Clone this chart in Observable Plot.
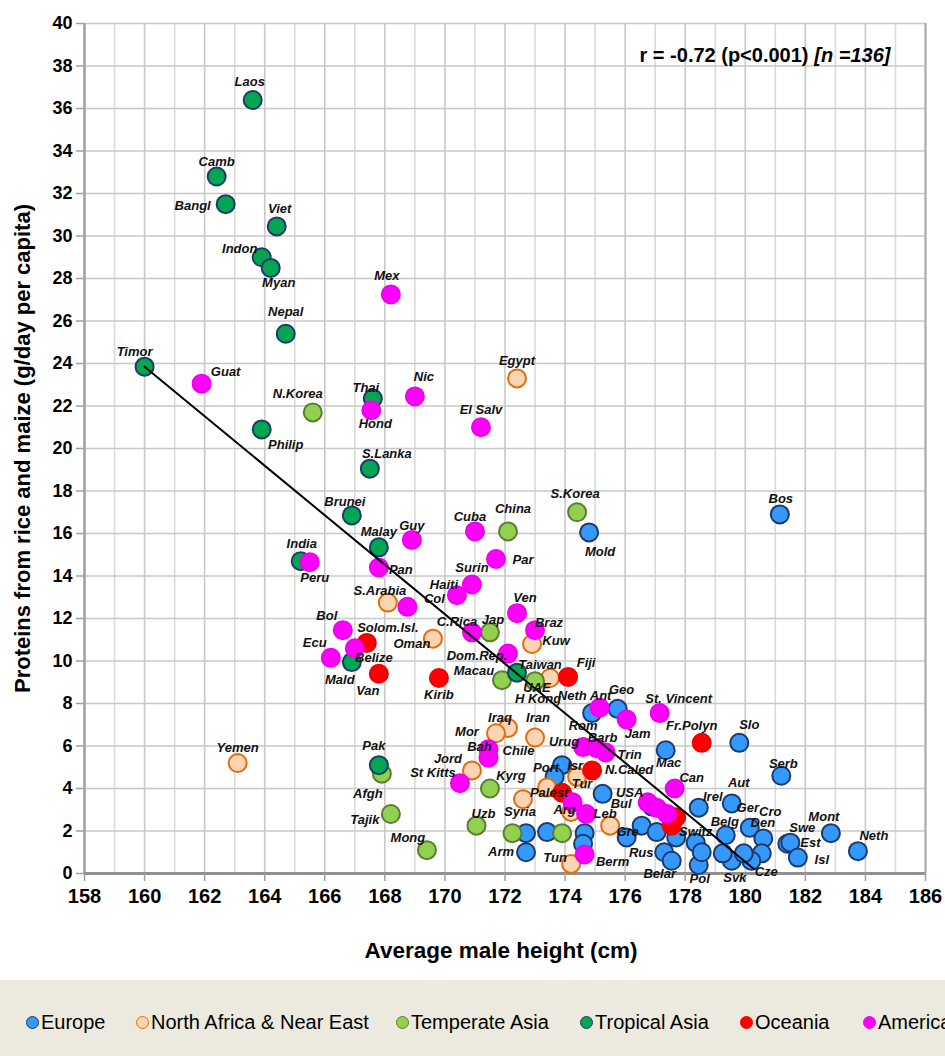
<!DOCTYPE html>
<html>
<head>
<meta charset="utf-8">
<script src="https://cdn.jsdelivr.net/npm/d3@7"></script>
<script src="https://cdn.jsdelivr.net/npm/@observablehq/plot@0.6"></script>
<style>
  html, body { margin: 0; padding: 0; background: #fff; overflow: hidden; }
  #chart { width: 945px; height: 1056px; position: relative; overflow: hidden; }
  #chart svg { display: block; }
  #legend { position: absolute; left: 0; top: 980px; width: 945px; height: 76px; background: #ECEADF;
            white-space: nowrap; font-family: "Liberation Sans", Arial, sans-serif; font-size: 20px; color: #000; overflow: hidden; }
  .item { position: absolute; top: 30px; height: 24px; display: flex; align-items: center; }
  .sw { display: inline-block; width: 11px; height: 11px; border-radius: 50%; border: 1.6px solid; margin-right: 2px; }
</style>
</head>
<body>
<div id="chart"></div>
<script>
// ---------- series definitions ----------
const series = ["Europe", "North Africa & Near East", "Temperate Asia", "Tropical Asia", "Oceania", "America"];
const seriesFill = ["#3399FF", "#FBD4B4", "#92D050", "#00A651", "#FF0000", "#FF00FF"];
const seriesStroke = ["#1F3A68", "#E46C0A", "#5A7D33", "#1F3A68", "#F00000", "#EE00EE"];
// legend item left edges (layout only)
const legendLeft = [26, 136, 396, 580, 740, 863];

// ---------- data (average male height cm, proteins from rice and maize g/day) ----------
const europeNames = ["Bos","Mold","Rom","Geo","Mac","Slo","Serb","Port","Aut","Irel","Ger","Belg","Cro","Den","Cze","Svk","Switz","Pol","Gre","Rus","Belar","Swe","Est","Isl","Mont","Neth","Bul","Arm","","","","","","","","","","","",""];
const europeHeight = [181.15,174.8,174.9,175.75,177.35,179.8,181.2,173.9,179.55,178.45,180.15,179.35,180.6,180.55,180.2,179.55,178.35,178.45,176.05,177.3,177.55,181.4,181.5,181.75,182.85,183.75,176.9,172.7,173.65,175.25,179.25,178.55,176.55,177.05,177.7,174.65,174.6,172.7,173.4,179.95];
const europeProtein = [16.9,16.05,7.55,7.75,5.8,6.15,4.6,5.1,3.3,3.1,2.15,1.8,1.65,0.95,0.6,0.6,1.45,0.4,1.7,1.0,0.6,1.4,1.45,0.75,1.9,1.05,3.15,1.0,4.55,3.75,0.95,1.0,2.25,1.95,1.7,1.9,1.4,1.9,1.95,0.95];

const nafricaNames = ["Egypt","S.Arabia","Oman","Kuw","UAE","Iraq","Mor","Iran","Jord","Syria","Tun","Palest","Isr","Tur","Leb","Yemen"];
const nafricaHeight = [172.4,168.1,169.6,172.9,173.5,172.1,171.7,173.0,170.9,172.6,174.2,173.4,174.4,174.2,175.5,163.1];
const nafricaProtein = [23.3,12.75,11.05,10.8,9.2,6.85,6.6,6.4,4.85,3.5,0.45,4.05,4.55,2.9,2.25,5.2];

const tempAsiaNames = ["N.Korea","China","S.Korea","Jap","Macau","H Kong","Afgh","Tajik","Mong","Uzb","Kyrg","",""];
const tempAsiaHeight = [165.6,172.1,174.4,171.5,171.9,173.0,167.9,168.2,169.4,171.05,171.5,172.25,173.9];
const tempAsiaProtein = [21.7,16.1,17.0,11.35,9.1,9.05,4.7,2.8,1.1,2.25,4.0,1.9,1.9];

const tropAsiaNames = ["Laos","Camb","Bangl","Viet","Indon","Myan","Nepal","Timor","Philip","Thai","S.Lanka","Brunei","Malay","India","Mald","Pak","Taiwan"];
const tropAsiaHeight = [163.6,162.4,162.7,164.4,163.9,164.2,164.7,160.0,163.9,167.6,167.5,166.9,167.8,165.2,166.9,167.8,172.4];
const tropAsiaProtein = [36.4,32.8,31.5,30.45,29.0,28.5,25.4,23.85,20.9,22.35,19.05,16.85,15.35,14.7,9.95,5.1,9.45];

const oceaniaNames = ["Solom.Isl.","Van","Kirib","Fiji","Fr.Polyn","N.Caled","","",""];
const oceaniaHeight = [167.4,167.8,169.8,174.1,178.55,174.9,173.9,177.7,177.55];
const oceaniaProtein = [10.85,9.4,9.2,9.25,6.15,4.85,3.8,2.65,2.25];

const americaNames = ["Mex","Guat","Nic","Hond","El Salv","Cuba","Guy","Par","Peru","Pan","Surin","Haiti","Col","Ven","Braz","C.Rica","Bol","Ecu","Belize","Dom.Rep.","St Kitts","Bah","Chile","Neth Ant","Jam","St. Vincent","Urug","Barb","Trin","Can","USA","Berm","Arg","","",""];
const americaHeight = [168.2,161.9,169.0,167.55,171.2,171.0,168.9,171.7,165.5,167.8,170.9,170.4,168.75,172.4,173.0,170.9,166.6,166.2,167.0,172.1,170.5,171.45,171.45,175.15,176.05,177.15,174.6,175.05,175.35,177.65,176.75,174.65,174.25,174.7,177.05,177.4];
const americaProtein = [27.25,23.05,22.45,21.8,21.0,16.1,15.7,14.8,14.65,14.4,13.6,13.1,12.55,12.25,11.45,11.35,11.45,10.15,10.6,10.35,4.25,5.85,5.45,7.8,7.25,7.55,5.95,5.9,5.7,4.0,3.35,0.9,3.35,2.8,3.1,2.8];

// regression line end points
const trendHeight = [160.0, 180.3];
const trendProtein = [23.85, 0.2];

// axis ticks
const xTickValues = [158,160,162,164,166,168,170,172,174,176,178,180,182,184,186];
const xMinorTicks = [159,161,163,165,167,169,171,173,175,177,179,181,183,185];
const yTickValues = [0,2,4,6,8,10,12,14,16,18,20,22,24,26,28,30,32,34,36,38,40];

const statText = "r = -0.72 (p<0.001)";
const nText = "[n =136]";
const xTitle = "Average male height (cm)";
const yTitle = "Proteins from rice and maize (g/day per capita)";

// ---------- label placement (pixel nudges relative to the point) ----------
const labelNudge = {
  "Laos":[-3,-18],"Camb":[0,-15],"Bangl":[-33,2],"Viet":[3,-18],"Indon":[-22,-8],"Myan":[8,15],"Nepal":[0,-22],
  "Timor":[-10,-15],"Philip":[24,15],"Thai":[-7,-11],"S.Lanka":[17,-15],"Brunei":[-7,-14],"Malay":[0,-15],
  "India":[1,-17],"Mald":[-12,18],"Pak":[-5,-19],"Taiwan":[23,-8],
  "N.Korea":[-15,-19],"China":[5,-23],"S.Korea":[-2,-18],"Jap":[3,-12],"Macau":[-28,-9],"H Kong":[3,18],
  "Afgh":[-14,20],"Tajik":[-26,6],"Mong":[-19,-12],"Uzb":[7,-12],"Kyrg":[21,-13],
  "Egypt":[0,-18],"S.Arabia":[-8,-12],"Oman":[-21,5],"Kuw":[24,-3],"UAE":[-13,10],"Iraq":[-8,-10],"Mor":[-29,-1],
  "Iran":[3,-20],"Jord":[-24,-12],"Syria":[-3,13],"Tun":[-16,-6],"Palest":[2,5],"Isr":[-2,-11],"Tur":[11,-28],
  "Leb":[-5,-12],"Yemen":[0,-15],
  "Solom.Isl.":[21,-15],"Van":[-11,17],"Kirib":[0,17],"Fiji":[18,-14],"Fr.Polyn":[-10,-17],"N.Caled":[37,-1],
  "Mex":[-4,-19],"Guat":[24,-12],"Nic":[9,-20],"Hond":[4,14],"El Salv":[0,-17],"Cuba":[-5,-15],"Guy":[0,-14],
  "Par":[27,1],"Peru":[5,16],"Pan":[22,2],"Surin":[0,-17],"Haiti":[-13,-10],"Col":[27,-8],"Ven":[8,-15],
  "Braz":[14,-7],"C.Rica":[-15,-10],"Bol":[-16,-14],"Ecu":[-16,-15],"Belize":[19,10],"Dom.Rep.":[-31,2],
  "St Kitts":[-27,-10],"Bah":[-9,-2],"Chile":[30,-7],"Neth Ant":[-15,-12],"Jam":[11,14],"St. Vincent":[19,-14],
  "Urug":[-19,-5],"Barb":[6,-10],"Trin":[24,2],"Can":[17,-11],"USA":[-18,-9],"Berm":[28,7],"Arg":[-8,8],
  "Bos":[1,-16],"Mold":[11,19],"Rom":[-9,13],"Geo":[4,-19],"Mac":[3,13],"Slo":[10,-18],"Serb":[2,-12],
  "Port":[-16,3],"Aut":[7,-21],"Irel":[14,-11],"Ger":[-2,-20],"Belg":[-1,-13],"Cro":[7,-27],"Den":[1,-30],
  "Cze":[15,11],"Svk":[3,17],"Switz":[0,-11],"Pol":[1,14],"Gre":[1,-6],"Rus":[-23,1],"Belar":[-12,13],
  "Swe":[15,-16],"Est":[20,0],"Isl":[24,2],"Mont":[-7,-16],"Neth":[16,-15],"Bul":[-31,-3],"Arm":[-25,0]
};

// ---------- build tables ----------
const groups = [
  [europeNames, europeHeight, europeProtein],
  [nafricaNames, nafricaHeight, nafricaProtein],
  [tempAsiaNames, tempAsiaHeight, tempAsiaProtein],
  [tropAsiaNames, tropAsiaHeight, tropAsiaProtein],
  [oceaniaNames, oceaniaHeight, oceaniaProtein],
  [americaNames, americaHeight, americaProtein]
];
const tables = groups.map(([n, h, p], gi) => n.map((name, i) => ({region: series[gi], name, height: h[i], protein: p[i]})));
const allRows = tables.flat();
const trend = trendHeight.map((h, i) => ({height: h, protein: trendProtein[i]}));

const SANS = '"Liberation Sans", Arial, Helvetica, sans-serif';

const dotMarks = tables.map((rows, gi) => Plot.dot(rows, {
  x: "height", y: "protein", r: 9, symbol: "circle",
  fill: seriesFill[gi], fillOpacity: 1, stroke: seriesStroke[gi], strokeWidth: 2,
  ariaLabel: "dots"
}));

const labelMarks = allRows.filter(d => d.name).map(d => {
  const [dx, dy] = labelNudge[d.name] || [0, -16];
  return Plot.text([d], {
    x: "height", y: "protein", text: "name", dx, dy,
    fontFamily: SANS, fontSize: 13, fontWeight: "bold", fontStyle: "italic", fill: "#111"
  });
});

const svg = Plot.plot({
  width: 945, height: 980,
  marginLeft: 84, marginRight: 20, marginTop: 23, marginBottom: 107,
  style: {fontFamily: SANS, background: "transparent", overflow: "visible"},
  x: {domain: [158, 186]},
  y: {domain: [0, 40]},
  marks: [
    Plot.ruleX(xMinorTicks, {stroke: "#DADADA", strokeWidth: 1.6}),
    Plot.ruleX(xTickValues, {stroke: "#C8C8C8", strokeWidth: 1.6}),
    Plot.ruleY(yTickValues, {stroke: "#C8C8C8", strokeWidth: 1.6}),
    Plot.ruleX([186], {stroke: "#A9A9A9", strokeWidth: 2, ariaLabel: "frame-right"}),
    Plot.ruleX([158], {stroke: "#A0A0A0", strokeWidth: 2.5}),
    Plot.ruleY([0], {stroke: "#909090", strokeWidth: 3, ariaLabel: "frame-bottom"}),
    Plot.axisY({ticks: yTickValues, tickSize: 8, tickPadding: 4, stroke: "#A0A0A0", strokeWidth: 1.5,
      fill: "#000", fontFamily: SANS, fontSize: 18, fontWeight: "bold", label: null, tickFormat: d => String(d)}),
    Plot.axisX({ticks: xTickValues, tickSize: 8, tickPadding: 7, stroke: "#A0A0A0", strokeWidth: 1.5,
      fill: "#000", fontFamily: SANS, fontSize: 20, fontWeight: "bold", label: null, tickFormat: d => String(d)}),
    ...dotMarks,
    Plot.line(trend, {x: "height", y: "protein", stroke: "#000", strokeWidth: 2}),
    ...labelMarks,
    Plot.text([statText], {frameAnchor: "top-right", text: d => d, dx: -117, dy: 24, textAnchor: "end",
      fontFamily: SANS, fontSize: 20, fontWeight: "bold", fill: "#000"}),
    Plot.text([nText], {frameAnchor: "top-right", text: d => d, dx: -35, dy: 24, textAnchor: "end",
      fontFamily: SANS, fontSize: 20, fontWeight: "bold", fontStyle: "italic", fill: "#000"}),
    Plot.text([xTitle], {frameAnchor: "bottom", text: d => d, dy: 84, dx: -4,
      fontFamily: SANS, fontSize: 22.5, fontWeight: "bold", fill: "#000"}),
    Plot.text([yTitle], {frameAnchor: "left", text: d => d, dx: -62, rotate: -90, textAnchor: "middle",
      fontFamily: SANS, fontSize: 22, fontWeight: "bold", fill: "#000"})
  ]
});

// drop shadows (Excel-style)
const defs = d3.select(svg).insert("defs", ":first-child");
const f = defs.append("filter").attr("id", "shadow").attr("x", "-50%").attr("y", "-50%").attr("width", "200%").attr("height", "200%");
f.append("feDropShadow").attr("dx", 3).attr("dy", 4).attr("stdDeviation", 2.2).attr("flood-color", "#000").attr("flood-opacity", 0.4);
const f2 = defs.append("filter").attr("id", "shadow2").attr("x", "-50%").attr("y", "-50%").attr("width", "200%").attr("height", "200%");
f2.append("feDropShadow").attr("dx", 3).attr("dy", 3).attr("stdDeviation", 2).attr("flood-color", "#000").attr("flood-opacity", 0.45);
d3.select(svg).selectAll('[aria-label="dots"]').attr("filter", "url(#shadow)");
d3.select(svg).selectAll('[aria-label="frame-right"], [aria-label="frame-bottom"]').attr("filter", "url(#shadow2)");

const chart = document.getElementById("chart");
chart.appendChild(svg);

// legend
const legend = document.createElement("div");
legend.id = "legend";
series.forEach((s, i) => {
  const item = document.createElement("span");
  item.className = "item";
  item.style.left = legendLeft[i] + "px";
  const sw = document.createElement("span");
  sw.className = "sw";
  sw.style.background = seriesFill[i];
  sw.style.borderColor = seriesStroke[i];
  item.appendChild(sw);
  item.appendChild(document.createTextNode(s));
  legend.appendChild(item);
});
chart.appendChild(legend);
</script>
</body>
</html>
